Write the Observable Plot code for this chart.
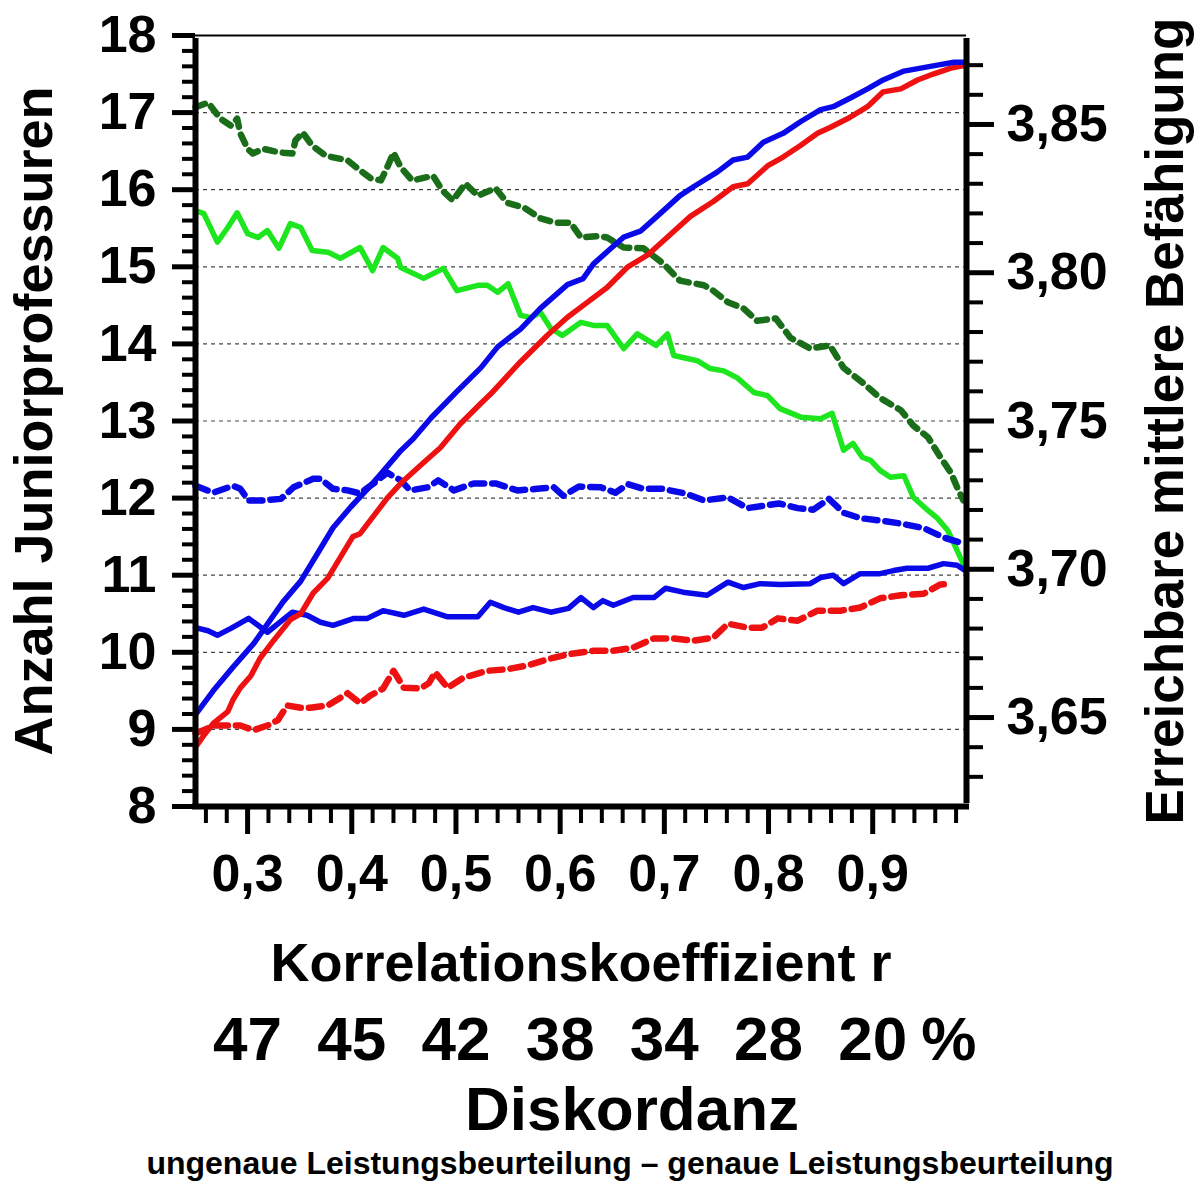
<!DOCTYPE html>
<html>
<head>
<meta charset="utf-8">
<script src="https://cdn.jsdelivr.net/npm/d3@7"></script>
<script src="https://cdn.jsdelivr.net/npm/@observablehq/plot@0.6"></script>
<style>
  html, body { margin: 0; padding: 0; background: #fff; }
  #chart svg { display: block; }
</style>
</head>
<body>
<div id="chart"></div>
<script>
// ---- Data ----
// Series on the left axis: "Anzahl Juniorprofessuren" [r, value]
const greenDotted = [[0.250,17.07],[0.262,17.13],[0.274,16.92],[0.284,16.83],[0.290,16.92],[0.293,16.73],[0.300,16.53],[0.305,16.47],[0.315,16.53],[0.325,16.50],[0.334,16.48],[0.343,16.47],[0.346,16.64],[0.353,16.74],[0.362,16.57],[0.375,16.44],[0.382,16.42],[0.396,16.38],[0.408,16.25],[0.418,16.15],[0.428,16.12],[0.434,16.29],[0.440,16.48],[0.447,16.29],[0.458,16.12],[0.478,16.18],[0.487,15.99],[0.497,15.86],[0.509,16.08],[0.521,15.92],[0.538,16.02],[0.549,15.83],[0.565,15.77],[0.581,15.63],[0.596,15.57],[0.610,15.57],[0.620,15.38],[0.637,15.40],[0.645,15.38],[0.661,15.25],[0.680,15.24],[0.699,15.04],[0.715,14.82],[0.738,14.76],[0.747,14.69],[0.761,14.54],[0.776,14.46],[0.789,14.30],[0.807,14.33],[0.821,14.08],[0.840,13.94],[0.859,13.98],[0.872,13.69],[0.891,13.49],[0.907,13.30],[0.927,13.14],[0.939,12.94],[0.953,12.79],[0.965,12.53],[0.975,12.33],[0.981,12.14],[0.987,11.97]];
const greenSolid = [[0.250,15.73],[0.258,15.69],[0.271,15.32],[0.281,15.51],[0.290,15.70],[0.300,15.43],[0.310,15.38],[0.319,15.47],[0.330,15.24],[0.341,15.56],[0.351,15.51],[0.362,15.21],[0.377,15.19],[0.389,15.11],[0.408,15.25],[0.420,14.95],[0.430,15.25],[0.444,15.11],[0.447,14.99],[0.469,14.85],[0.488,14.98],[0.501,14.69],[0.521,14.76],[0.530,14.76],[0.540,14.67],[0.550,14.78],[0.562,14.37],[0.572,14.34],[0.581,14.41],[0.591,14.20],[0.602,14.11],[0.620,14.28],[0.632,14.24],[0.645,14.24],[0.661,13.94],[0.674,14.13],[0.692,13.98],[0.703,14.13],[0.709,13.85],[0.722,13.81],[0.732,13.78],[0.744,13.68],[0.757,13.65],[0.770,13.56],[0.786,13.37],[0.799,13.33],[0.811,13.16],[0.831,13.05],[0.850,13.03],[0.861,13.10],[0.872,12.62],[0.881,12.71],[0.890,12.53],[0.898,12.49],[0.907,12.36],[0.917,12.27],[0.930,12.29],[0.939,12.01],[0.953,11.84],[0.962,11.74],[0.972,11.58],[0.978,11.41],[0.984,11.23],[0.990,11.06]];
const blueDashed = [[0.250,12.16],[0.267,12.07],[0.286,12.16],[0.293,12.12],[0.301,11.97],[0.315,11.97],[0.332,11.99],[0.344,12.14],[0.363,12.25],[0.370,12.25],[0.382,12.12],[0.396,12.10],[0.408,12.06],[0.421,12.19],[0.434,12.33],[0.447,12.23],[0.456,12.10],[0.473,12.14],[0.483,12.23],[0.498,12.10],[0.517,12.19],[0.538,12.19],[0.559,12.10],[0.578,12.12],[0.594,12.14],[0.603,12.03],[0.618,12.15],[0.639,12.14],[0.653,12.07],[0.665,12.18],[0.680,12.12],[0.698,12.12],[0.720,12.06],[0.738,11.97],[0.761,12.01],[0.780,11.87],[0.795,11.90],[0.810,11.93],[0.828,11.87],[0.843,11.85],[0.858,11.99],[0.872,11.81],[0.888,11.74],[0.907,11.71],[0.927,11.67],[0.949,11.61],[0.968,11.49],[0.987,11.41]];
const blueFlat = [[0.250,10.32],[0.262,10.28],[0.271,10.22],[0.284,10.31],[0.301,10.44],[0.310,10.35],[0.319,10.26],[0.329,10.37],[0.343,10.52],[0.357,10.48],[0.370,10.39],[0.382,10.35],[0.402,10.44],[0.415,10.44],[0.430,10.54],[0.450,10.48],[0.469,10.56],[0.492,10.46],[0.521,10.46],[0.533,10.65],[0.546,10.58],[0.560,10.52],[0.574,10.58],[0.591,10.52],[0.608,10.57],[0.620,10.71],[0.632,10.58],[0.641,10.67],[0.651,10.61],[0.670,10.71],[0.690,10.71],[0.701,10.83],[0.718,10.78],[0.741,10.74],[0.761,10.91],[0.776,10.84],[0.792,10.89],[0.811,10.88],[0.840,10.89],[0.850,10.97],[0.862,11.00],[0.872,10.89],[0.888,11.02],[0.907,11.02],[0.920,11.06],[0.933,11.09],[0.953,11.09],[0.968,11.15],[0.981,11.13],[0.990,11.05]];
const redDashed = [[0.250,8.95],[0.258,8.99],[0.267,9.05],[0.281,9.05],[0.293,9.05],[0.306,8.99],[0.319,9.05],[0.329,9.12],[0.338,9.31],[0.351,9.28],[0.360,9.28],[0.377,9.31],[0.396,9.47],[0.408,9.34],[0.418,9.44],[0.430,9.53],[0.440,9.76],[0.450,9.54],[0.466,9.53],[0.474,9.60],[0.480,9.74],[0.492,9.54],[0.507,9.67],[0.530,9.76],[0.549,9.78],[0.569,9.83],[0.591,9.92],[0.610,9.98],[0.632,10.02],[0.651,10.02],[0.670,10.06],[0.690,10.18],[0.709,10.18],[0.728,10.15],[0.747,10.19],[0.761,10.37],[0.780,10.32],[0.794,10.32],[0.809,10.44],[0.828,10.41],[0.847,10.54],[0.869,10.54],[0.888,10.58],[0.907,10.70],[0.927,10.74],[0.949,10.76],[0.965,10.88],[0.975,10.89]];

// Series on the right axis: "Erreichbare mittlere Befähigung" [r, value]
const blueRising = [[0.250,3.651],[0.267,3.659],[0.286,3.667],[0.306,3.675],[0.322,3.683],[0.334,3.689],[0.351,3.696],[0.370,3.707],[0.382,3.714],[0.399,3.721],[0.415,3.727],[0.430,3.733],[0.447,3.740],[0.459,3.744],[0.476,3.751],[0.501,3.760],[0.524,3.768],[0.540,3.775],[0.562,3.781],[0.581,3.788],[0.607,3.796],[0.622,3.798],[0.632,3.803],[0.648,3.808],[0.661,3.812],[0.677,3.814],[0.693,3.819],[0.715,3.826],[0.728,3.829],[0.751,3.834],[0.766,3.838],[0.780,3.839],[0.795,3.844],[0.814,3.847],[0.831,3.851],[0.850,3.855],[0.862,3.856],[0.879,3.859],[0.895,3.862],[0.910,3.865],[0.930,3.868],[0.946,3.869],[0.962,3.870],[0.978,3.871],[0.990,3.871]];
const redRising = [[0.250,3.640],[0.258,3.644],[0.267,3.648],[0.281,3.652],[0.286,3.656],[0.293,3.660],[0.303,3.664],[0.312,3.670],[0.325,3.676],[0.341,3.683],[0.351,3.685],[0.363,3.692],[0.377,3.697],[0.389,3.704],[0.401,3.711],[0.408,3.712],[0.421,3.718],[0.434,3.724],[0.447,3.729],[0.469,3.736],[0.485,3.741],[0.504,3.749],[0.524,3.756],[0.533,3.759],[0.562,3.770],[0.588,3.779],[0.607,3.785],[0.626,3.790],[0.645,3.795],[0.665,3.802],[0.684,3.806],[0.706,3.813],[0.725,3.819],[0.747,3.824],[0.766,3.829],[0.780,3.830],[0.799,3.836],[0.814,3.839],[0.831,3.843],[0.847,3.847],[0.859,3.849],[0.876,3.852],[0.895,3.856],[0.910,3.861],[0.927,3.862],[0.943,3.865],[0.958,3.867],[0.975,3.869],[0.990,3.870]];

// Axes / ticks / labels
const xTicks = [0.3, 0.4, 0.5, 0.6, 0.7, 0.8, 0.9];
const xMinorTicks = d3.range(26, 99, 2).filter(i => i % 10 !== 0).map(i => i / 100);
const anzTicks = [8, 9, 10, 11, 12, 13, 14, 15, 16, 17, 18];
const anzMinorTicks = d3.range(40, 90).filter(i => i % 5 !== 0).map(i => i / 5);
const gridLines = [9, 10, 11, 12, 13, 14, 15, 16, 17];
const befTicks = [3.65, 3.70, 3.75, 3.80, 3.85];
const befMinorTicks = d3.range(363, 388).filter(i => i % 5 !== 0).map(i => i / 100);
const diskR = [0.3, 0.4, 0.5, 0.6, 0.7, 0.8, 0.9];
const diskPct = [47, 45, 42, 38, 34, 28, 20];

const titleLeft = "Anzahl Juniorprofessuren";
const titleRight = "Erreichbare mittlere Befähigung";
const titleX = "Korrelationskoeffizient r";
const titleDisk = "Diskordanz";
const caption = "ungenaue Leistungsbeurteilung \u2013 genaue Leistungsbeurteilung";

// right axis domain [3.62, 3.88] aligned with left [8, 18]
const befMin = 3.62, befPerAnz = 0.026;
const toAnz = v => 8 + (v - befMin) / befPerAnz;
const toBef = a => befMin + (a - 8) * befPerAnz;
const comma = (v, n) => v.toFixed(n).replace(".", ",");

const BLUE = "#0a0ae8", RED = "#ee1111", LGREEN = "#1ee61e", DGREEN = "#1a6e1a";

const lineL = (data, opts) => Plot.line(data, {x: d => d[0], y: d => d[1], strokeLinejoin: "round", ...opts});
const lineR = (data, opts) => Plot.line(data, {x: d => d[0], y: d => toAnz(d[1]), strokeLinejoin: "round", ...opts});
const T = {textAnchor: "middle", lineAnchor: "middle", fontWeight: "bold", fill: "#000"};

const chart = Plot.plot({
  width: 1197,
  height: 1182,
  marginLeft: 195,
  marginRight: 231,
  marginTop: 35,
  marginBottom: 376,
  x: {domain: [0.25, 0.99]},
  y: {domain: [8, 18]},
  style: {fontFamily: "'Liberation Sans', Arial, sans-serif", fontWeight: "bold", color: "#000", background: "#fff"},
  marks: [
    Plot.ruleY(gridLines, {stroke: "#444", strokeWidth: 1.2, strokeDasharray: "4,4"}),
    lineL(greenDotted, {stroke: DGREEN, strokeWidth: 6.5, strokeDasharray: "10,8"}),
    lineL(greenSolid, {stroke: LGREEN, strokeWidth: 5.5}),
    lineL(blueDashed, {stroke: BLUE, strokeWidth: 6.5, strokeDasharray: "13,8"}),
    lineL(redDashed, {stroke: RED, strokeWidth: 6.5, strokeDasharray: "13,8"}),
    lineL(blueFlat, {stroke: BLUE, strokeWidth: 5.5}),
    lineR(redRising, {stroke: RED, strokeWidth: 5.5}),
    lineR(blueRising, {stroke: BLUE, strokeWidth: 5.5}),
    // frame lines
    Plot.ruleY([18], {stroke: "#000", strokeWidth: 2}),
    Plot.ruleX([0.25], {stroke: "#000", strokeWidth: 6, y1: 8, y2: 18, insetBottom: -3}),
    Plot.ruleX([0.99], {stroke: "#000", strokeWidth: 6, y1: 8, y2: 18, insetBottom: -3, insetTop: -3}),
    Plot.ruleY([8], {stroke: "#000", strokeWidth: 6, insetLeft: -3, insetRight: -3}),
    // left axis
    Plot.axisY({anchor: "left", ticks: anzMinorTicks, tickSize: 13, strokeWidth: 4, tickFormat: () => "", label: null}),
    Plot.axisY({anchor: "left", ticks: anzTicks, tickSize: 23, tickPadding: 16, strokeWidth: 5, fontSize: 52, fontWeight: "bold", tickFormat: d => String(d), label: null}),
    // right axis
    Plot.axisY({anchor: "right", ticks: befMinorTicks.map(toAnz), tickSize: 16, strokeWidth: 4, tickFormat: () => "", label: null}),
    Plot.axisY({anchor: "right", ticks: befTicks.map(toAnz), tickSize: 27, tickPadding: 13, strokeWidth: 5, fontSize: 52, fontWeight: "bold", tickFormat: d => comma(toBef(d), 2), label: null}),
    // x axis
    Plot.axisX({ticks: xMinorTicks, tickSize: 17, strokeWidth: 4, tickFormat: () => "", label: null}),
    Plot.axisX({ticks: xTicks, tickSize: 28, tickPadding: 20, strokeWidth: 5, fontSize: 52, fontWeight: "bold", tickFormat: d => comma(d, 1), label: null}),
    // titles
    Plot.text([titleLeft], {...T, text: d => d, frameAnchor: "left", rotate: -90, dx: -161, fontSize: 54}),
    Plot.text([titleRight], {...T, text: d => d, frameAnchor: "right", rotate: -90, dx: 200, fontSize: 53}),
    Plot.text([titleX], {...T, text: d => d, frameAnchor: "bottom", dy: 157, fontSize: 54}),
    Plot.text(diskPct, {...T, x: (d, i) => diskR[i], text: d => String(d), frameAnchor: "bottom", dy: 234, fontSize: 62}),
    Plot.text(["%"], {...T, x: () => diskR[diskR.length - 1], text: d => d, frameAnchor: "bottom", dy: 234, dx: 76, fontSize: 62}),
    Plot.text([titleDisk], {...T, text: d => d, frameAnchor: "bottom", dy: 304, dx: 51, fontSize: 62}),
    Plot.text([caption], {...T, text: d => d, frameAnchor: "bottom", dy: 357, dx: 49, fontSize: 32})
  ]
});
document.getElementById("chart").appendChild(chart);
</script>
</body>
</html>
